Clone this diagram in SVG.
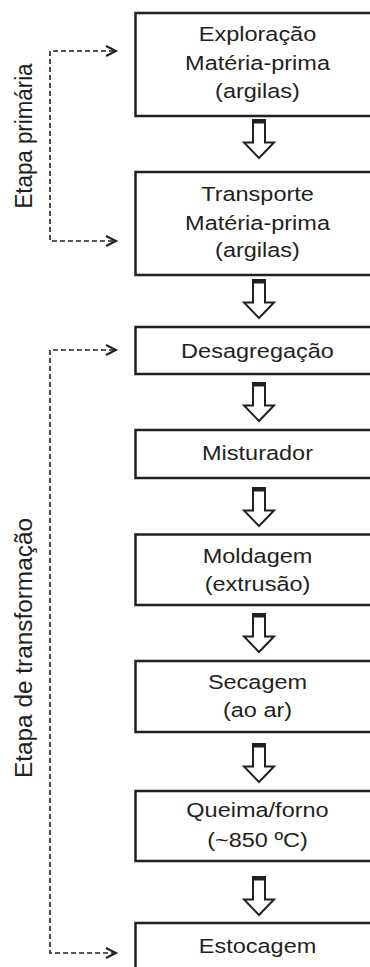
<svg xmlns="http://www.w3.org/2000/svg" width="370" height="967" viewBox="0 0 370 967">
<style>
.box{fill:#fff;stroke:#231f20;stroke-width:2.5}
.t{font-family:"Liberation Sans",Arial,sans-serif;font-size:23.5px;fill:#231f20;text-anchor:middle}
.v{font-family:"Liberation Sans",Arial,sans-serif;font-size:23px;fill:#231f20;text-anchor:middle}
.dash{fill:none;stroke:#231f20;stroke-width:1.6;stroke-dasharray:5 3}
.chev{fill:none;stroke:#231f20;stroke-width:2}
.blk{fill:#fff;stroke:#231f20;stroke-width:2}
.bar{fill:#231f20}
</style>
<defs>
<g id="barrow">
<polygon class="blk" points="253,0 265,0 265,22.5 274,22.5 259,38 244,22.5 253,22.5"/>
<rect class="bar" x="252" y="-1" width="14" height="4.5"/>
</g>
</defs>
<g id="labels">
<text class="v" transform="translate(32,136) rotate(-90)" textLength="145" lengthAdjust="spacingAndGlyphs">Etapa primária</text>
<text class="v" transform="translate(32,648) rotate(-90)" textLength="260" lengthAdjust="spacingAndGlyphs">Etapa de transformação</text>
</g>
<g id="connectors">
<polyline class="dash" points="114,51 50,51 50,241 114,241"/>
<polyline class="chev" points="106,46 116,51 106,56"/>
<polyline class="chev" points="106,236 116,241 106,246"/>
<polyline class="dash" points="114,350 50,350 50,953 114,953"/>
<polyline class="chev" points="106,345 116,350 106,355"/>
<polyline class="chev" points="106,948 116,953 106,958"/>
<use href="#barrow" y="120"/>
<use href="#barrow" y="280"/>
<use href="#barrow" y="383"/>
<use href="#barrow" y="488"/>
<use href="#barrow" y="614"/>
<use href="#barrow" y="744"/>
<use href="#barrow" y="877"/>
</g>
<g id="n1">
<rect class="box" x="135.5" y="13" width="260" height="103"/>
<text class="t" transform="matrix(1 0 0 0.87 257.5 40.5)">Exploração</text>
<text class="t" transform="matrix(1 0 0 0.87 257.5 69.5)">Matéria-prima</text>
<text class="t" transform="matrix(1 0 0 0.87 257.5 97.5)">(argilas)</text>
</g>
<g id="n2">
<rect class="box" x="135.5" y="172" width="260" height="103"/>
<text class="t" transform="matrix(1 0 0 0.87 257.5 201)">Transporte</text>
<text class="t" transform="matrix(1 0 0 0.87 257.5 229.5)">Matéria-prima</text>
<text class="t" transform="matrix(1 0 0 0.87 257.5 257)">(argilas)</text>
</g>
<g id="n3">
<rect class="box" x="135.5" y="327" width="260" height="47"/>
<text class="t" transform="matrix(1 0 0 0.87 257.5 357.5)">Desagregação</text>
</g>
<g id="n4">
<rect class="box" x="135.5" y="430" width="260" height="48"/>
<text class="t" transform="matrix(1 0 0 0.87 257.5 460)">Misturador</text>
</g>
<g id="n5">
<rect class="box" x="135.5" y="534.5" width="260" height="70.5"/>
<text class="t" transform="matrix(1 0 0 0.87 257.5 562.5)">Moldagem</text>
<text class="t" transform="matrix(1 0 0 0.87 257.5 590.5)">(extrusão)</text>
</g>
<g id="n6">
<rect class="box" x="135.5" y="661" width="260" height="71"/>
<text class="t" transform="matrix(1 0 0 0.87 257.5 688.5)">Secagem</text>
<text class="t" transform="matrix(1 0 0 0.87 257.5 717)">(ao ar)</text>
</g>
<g id="n7">
<rect class="box" x="135.5" y="791" width="260" height="70"/>
<text class="t" transform="matrix(1 0 0 0.87 257.5 817)">Queima/forno</text>
<text class="t" transform="matrix(1 0 0 0.87 257.5 847)">(~850 ºC)</text>
</g>
<g id="n8">
<rect class="box" x="135.5" y="923" width="260" height="60"/>
<text class="t" transform="matrix(1 0 0 0.87 257.5 953)">Estocagem</text>
</g>
</svg>
